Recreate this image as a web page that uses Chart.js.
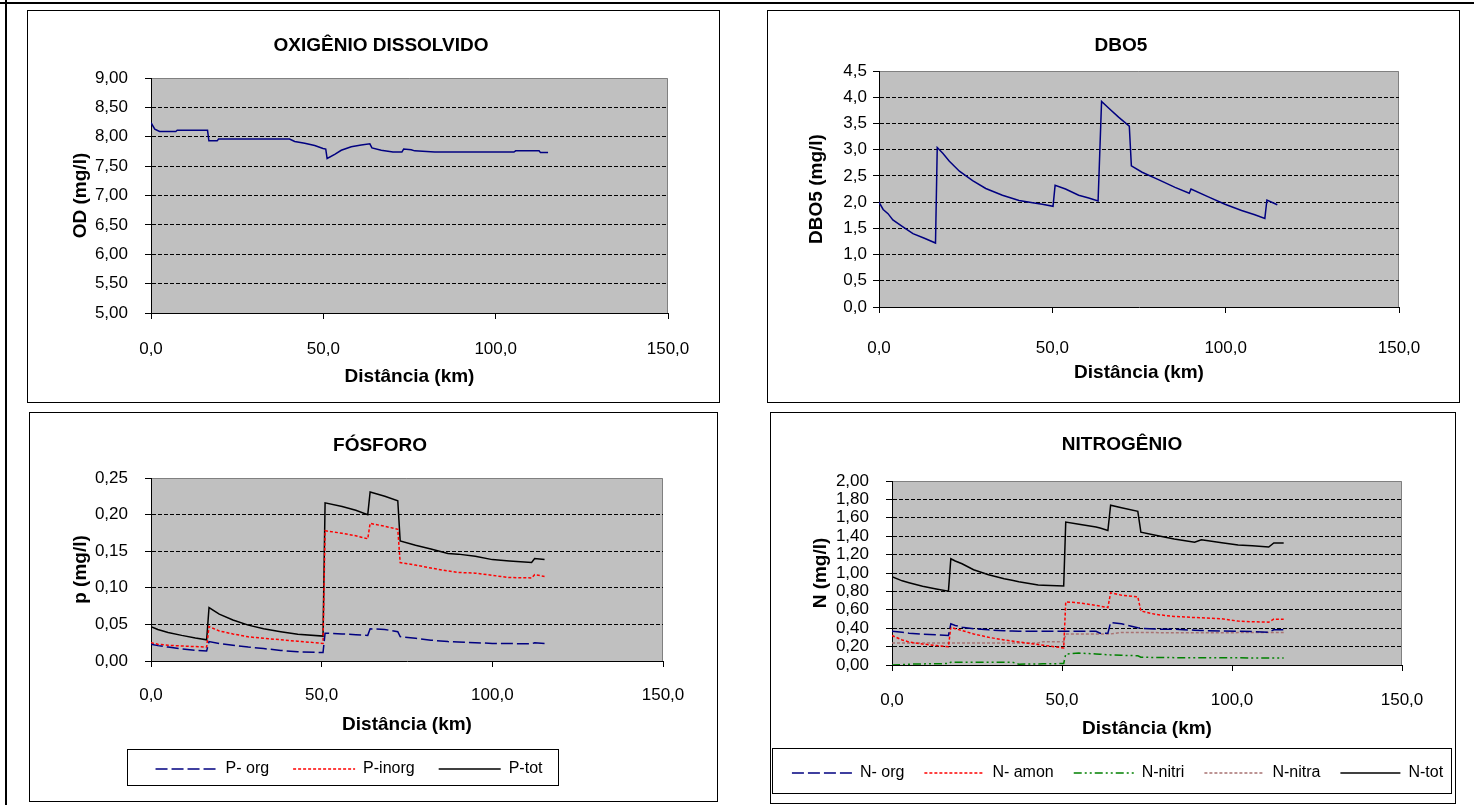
<!DOCTYPE html>
<html>
<head>
<meta charset="utf-8">
<script src="https://cdn.jsdelivr.net/npm/chart.js@4.4.1/dist/chart.umd.min.js"></script>
<style>
  body { margin: 0; background: #fff; width: 1474px; height: 805px; position: relative; overflow: hidden; }
  .panel { position: absolute; border: 1px solid #000; box-sizing: border-box; }
  .panel canvas { position: absolute; left: -1px; top: -1px; }
  .frame { position: absolute; background: #000; }
  .legbox { position: absolute; border: 1px solid #000; box-sizing: border-box; pointer-events: none; }
</style>
</head>
<body>
<div class="frame" style="left:0;top:2px;width:1474px;height:2px"></div>
<div class="frame" style="left:5px;top:0;width:2px;height:805px"></div>

<div class="panel" style="left:27px;top:10px;width:693px;height:393px"><canvas id="od" width="693" height="393"></canvas></div>
<div class="panel" style="left:767px;top:10px;width:693px;height:393px"><canvas id="dbo" width="693" height="393"></canvas></div>
<div class="panel" style="left:29px;top:412px;width:689px;height:390px"><canvas id="fos" width="689" height="390"></canvas></div>
<div class="panel" style="left:770px;top:412px;width:686px;height:392px"><canvas id="nit" width="704" height="392"></canvas></div>
<div class="legbox" style="left:127px;top:749px;width:432px;height:37px"></div>
<div class="legbox" style="left:772px;top:748px;width:680px;height:46px"></div>

<script>
// Oxigênio dissolvido
const odKm = [0, 1.1, 2.5, 7.2, 7.6, 16.4, 16.8, 19.2, 19.6, 40.2, 41.7, 44.6, 47.5, 49.9, 50.7, 51.1,
  53.3, 55.2, 58.1, 61.0, 63.5, 64.1, 66.8, 70.2, 72.8, 73.3, 75.5, 76.5, 82.3, 105.3, 105.8, 112.6, 113.0, 115.2];
const odVal = [8.24, 8.13, 8.09, 8.09, 8.11, 8.11, 7.93, 7.93, 7.96, 7.96, 7.92, 7.89, 7.85, 7.80, 7.79, 7.63,
  7.70, 7.77, 7.83, 7.86, 7.88, 7.81, 7.77, 7.74, 7.74, 7.79, 7.78, 7.76, 7.74, 7.74, 7.76, 7.76, 7.73, 7.73];

// DBO5
const dboKm = [0, 1.2, 2.6, 4.0, 6.9, 9.8, 13.1, 16.3, 16.8, 18.4, 20.3, 23.2, 27.0, 30.8, 35.6, 40.4, 44.3,
  47.1, 50.2, 50.8, 53.8, 57.6, 60.5, 63.2, 64.2, 66.3, 69.1, 72.2, 72.8, 75.9, 80.6, 85.4, 89.5, 90.0, 95.0,
  99.8, 104.6, 108.4, 111.3, 111.9, 114.9];
const dboVal = [2.00, 1.86, 1.78, 1.66, 1.53, 1.40, 1.31, 1.22, 3.04, 2.93, 2.78, 2.59, 2.41, 2.26, 2.13, 2.03,
  1.99, 1.96, 1.92, 2.32, 2.25, 2.13, 2.08, 2.02, 3.92, 3.79, 3.62, 3.45, 2.69, 2.57, 2.43, 2.28, 2.17, 2.25,
  2.10, 1.96, 1.84, 1.76, 1.69, 2.04, 1.95];

// Fósforo
const pKm = [0, 2, 5, 9, 13, 16.3, 17, 20, 24, 28.5, 33, 38, 43, 50.4, 51, 56, 60, 63.5, 64.2, 68.5, 72.3, 73,
  77.5, 82, 87, 90, 95, 100, 105, 111.5, 112.4, 115.3];
const pOrg = [0.023, 0.021, 0.019, 0.0165, 0.0145, 0.0137, 0.0265, 0.024, 0.0215, 0.019, 0.017, 0.0145, 0.0125,
  0.0115, 0.038, 0.037, 0.036, 0.035, 0.044, 0.043, 0.040, 0.0333, 0.031, 0.0285, 0.0265, 0.026, 0.025, 0.024,
  0.0238, 0.0235, 0.025, 0.0238];
const pInorg = [0.025, 0.0228, 0.0215, 0.0205, 0.0197, 0.019, 0.047, 0.041, 0.037, 0.033, 0.031, 0.029, 0.027,
  0.024, 0.178, 0.1745, 0.171, 0.167, 0.188, 0.184, 0.180, 0.1345, 0.131, 0.127, 0.123, 0.121, 0.120, 0.117,
  0.114, 0.1135, 0.118, 0.1155];
const pTot = [0.047, 0.043, 0.039, 0.035, 0.0315, 0.029, 0.073, 0.064, 0.056, 0.049, 0.044, 0.040, 0.0365,
  0.034, 0.216, 0.211, 0.206, 0.200, 0.231, 0.225, 0.219, 0.164, 0.158, 0.153, 0.147, 0.146, 0.143, 0.1385,
  0.1365, 0.1345, 0.140, 0.1385];

// Nitrogênio
const nKm = [0, 3, 5, 9, 13, 16.6, 17.3, 18.6, 20.6, 24, 28.4, 33, 35.3, 37.3, 43, 44.5, 50.5, 51.1, 55, 60,
  61.2, 63.5, 64.3, 67.5, 72.3, 73.2, 77.5, 83, 89, 91, 97, 101.8, 106, 110.8, 112.3, 115.2];
const nOrg = [0.367, 0.355, 0.345, 0.335, 0.328, 0.32, 0.448, 0.43, 0.411, 0.395, 0.382, 0.372, 0.369, 0.367,
  0.367, 0.367, 0.367, 0.367, 0.367, 0.367, 0.345, 0.345, 0.463, 0.448, 0.404, 0.40, 0.39, 0.389, 0.378, 0.375,
  0.37, 0.367, 0.363, 0.356, 0.382, 0.382];
const nAmon = [0.32, 0.272, 0.25, 0.228, 0.212, 0.199, 0.411, 0.395, 0.375, 0.338, 0.301, 0.272, 0.26, 0.25,
  0.222, 0.215, 0.185, 0.686, 0.675, 0.648, 0.64, 0.624, 0.785, 0.759, 0.741, 0.587, 0.55, 0.528, 0.516, 0.514,
  0.503, 0.477, 0.47, 0.466, 0.499, 0.496];
const nNitri = [0.0, 0.005, 0.009, 0.012, 0.014, 0.016, 0.031, 0.031, 0.031, 0.031, 0.031, 0.031, 0.031, 0.009,
  0.012, 0.013, 0.016, 0.119, 0.13, 0.12, 0.117, 0.111, 0.11, 0.106, 0.10, 0.085, 0.082, 0.08, 0.08, 0.08,
  0.078, 0.078, 0.077, 0.077, 0.077, 0.077];
const nNitra = [0.24, 0.24, 0.24, 0.24, 0.24, 0.24, 0.24, 0.24, 0.24, 0.24, 0.24, 0.24, 0.24, 0.24, 0.24, 0.254,
  0.254, 0.338, 0.338, 0.338, 0.338, 0.338, 0.338, 0.353, 0.353, 0.353, 0.352, 0.35, 0.35, 0.35, 0.35, 0.352,
  0.352, 0.352, 0.352, 0.352];
const nTot = [0.96, 0.915, 0.895, 0.857, 0.827, 0.803, 1.155, 1.13, 1.10, 1.035, 0.982, 0.937, 0.92, 0.905,
  0.87, 0.868, 0.858, 1.554, 1.53, 1.50, 1.49, 1.463, 1.737, 1.71, 1.67, 1.444, 1.41, 1.37, 1.334, 1.362, 1.33,
  1.305, 1.295, 1.283, 1.327, 1.327];

const xTicks = [0, 50, 100, 150];

Chart.defaults.font.family = '"Liberation Sans", Arial, sans-serif';
Chart.defaults.color = '#000';

function pts(xs, ys) {
  return xs.map((x, i) => ({ x: x, y: ys[i] }));
}

function comma(v, d) {
  return v.toFixed(d).replace('.', ',');
}

// grey plot area with grey top/right edges, like the spreadsheet chart
const plotBg = {
  id: 'plotBg',
  beforeDraw(chart) {
    const { ctx, chartArea: a } = chart;
    ctx.save();
    ctx.fillStyle = '#c0c0c0';
    ctx.fillRect(a.left, a.top, a.right - a.left, a.bottom - a.top);
    ctx.strokeStyle = '#808080';
    ctx.lineWidth = 1;
    ctx.beginPath();
    ctx.moveTo(a.left, a.top + 0.5);
    ctx.lineTo(a.right - 0.5, a.top + 0.5);
    ctx.lineTo(a.right - 0.5, a.bottom);
    ctx.stroke();
    ctx.restore();
  }
};

// put the legend row where the framed legend sits
function legendSpot(cx, cy, pad) {
  return {
    id: 'legendSpot',
    beforeDraw(chart) {
      const lg = chart.legend;
      const w = lg.width;
      lg.left = cx - w / 2;
      lg.right = cx + w / 2;
      lg.top = cy - pad - 8;
      lg.bottom = lg.top + lg.height;
    }
  };
}

function legendOpts(pad, lineW) {
  return {
    display: true,
    position: 'bottom',
    labels: {
      usePointStyle: true,
      pointStyleWidth: lineW,
      padding: pad,
      font: { size: 16 },
      generateLabels: (chart) => chart.data.datasets.map((ds, i) => ({
        text: ds.label,
        fillStyle: ds.borderColor,
        strokeStyle: ds.borderColor,
        lineWidth: ds.borderWidth,
        lineDash: ds.borderDash || [],
        pointStyle: 'line',
        fontColor: '#000',
        hidden: false,
        datasetIndex: i
      }))
    }
  };
}

function makeChart(id, o) {
  return new Chart(document.getElementById(id), {
    type: 'line',
    data: { datasets: o.datasets },
    options: {
      responsive: false,
      animation: false,
      devicePixelRatio: 1,
      layout: { padding: { left: o.padLeft, top: 0, right: 0, bottom: o.padBottom } },
      elements: { point: { radius: 0 }, line: { tension: 0, borderWidth: 1.5 } },
      plugins: {
        title: {
          display: true, text: o.title, color: '#000',
          font: { size: 19, weight: 'bold' }, padding: o.titlePad
        },
        legend: o.legend || { display: false },
        tooltip: { enabled: false }
      },
      scales: {
        x: {
          type: 'linear', min: 0, max: 150,
          afterBuildTicks: (s) => { s.ticks = xTicks.map(v => ({ value: v })); },
          afterFit: (s) => { s.height = o.xHeight; },
          grid: { drawOnChartArea: false, drawTicks: true, tickLength: 6, tickColor: '#000', color: '#000' },
          border: { color: '#000', width: 1 },
          ticks: { padding: o.xTickPad, font: { size: 17 }, maxRotation: 0, callback: (v) => comma(v, 1) },
          title: { display: true, text: 'Distância (km)', font: { size: 19, weight: 'bold' }, padding: 0 }
        },
        y: {
          min: o.yMin, max: o.yMax,
          afterFit: (s) => { s.width = o.yWidth; },
          grid: {
            tickLength: 6, tickColor: '#000', lineWidth: 1,
            color: (c) => (c.index === 0 || c.tick.value >= o.yMax - 1e-9) ? 'rgba(0,0,0,0)' : '#000'
          },
          border: { color: '#000', width: 1, dash: [4, 2] },
          ticks: {
            stepSize: o.yStep, autoSkip: false, padding: o.yTickPad, font: { size: 17 },
            callback: (v) => comma(v, o.yDec)
          },
          title: { display: true, text: o.yTitle, font: { size: 19, weight: 'bold' }, padding: { top: o.yTitlePad, bottom: 0 } }
        },
        // empty strip that keeps the white margin right of the plot
        yRight: {
          axis: 'y', type: 'linear', position: 'right', display: true,
          afterFit: (s) => { s.width = o.rightGap; },
          grid: { display: false, drawTicks: false },
          border: { display: false },
          ticks: { display: false },
          title: { display: false }
        }
      }
    },
    plugins: [plotBg].concat(o.extra || [])
  });
}

makeChart('od', {
  title: 'OXIGÊNIO DISSOLVIDO', yTitle: 'OD (mg/l)',
  datasets: [{ label: 'OD', data: pts(odKm, odVal), borderColor: '#000080', borderWidth: 1.5 }],
  yMin: 5, yMax: 9, yStep: 0.5, yDec: 2,
  padLeft: 15, rightGap: 52, padBottom: 14.6, titlePad: { top: 24.6, bottom: 20.6 },
  yWidth: 109, yTickPad: 17, yTitlePad: 27.6, xHeight: 75.4, xTickPad: 19.8
});

makeChart('dbo', {
  title: 'DBO5', yTitle: 'DBO5 (mg/l)',
  datasets: [{ label: 'DBO5', data: pts(dboKm, dboVal), borderColor: '#000080', borderWidth: 1.5 }],
  yMin: 0, yMax: 4.5, yStep: 0.5, yDec: 1,
  padLeft: 15, rightGap: 61, padBottom: 18.6, titlePad: { top: 24.6, bottom: 13.6 },
  yWidth: 97, yTickPad: 6, yTitlePad: 23.6, xHeight: 77.4, xTickPad: 24.8
});

makeChart('fos', {
  title: 'FÓSFORO', yTitle: 'p (mg/l)',
  datasets: [
    { label: 'P- org', data: pts(pKm, pOrg), borderColor: '#000080', borderWidth: 1.5, borderDash: [12, 4] },
    { label: 'P-inorg', data: pts(pKm, pInorg), borderColor: '#ff0000', borderWidth: 1.5, borderDash: [3, 2] },
    { label: 'P-tot', data: pts(pKm, pTot), borderColor: '#000000', borderWidth: 1.5 }
  ],
  yMin: 0, yMax: 0.25, yStep: 0.05, yDec: 2,
  padLeft: 13, rightGap: 55, padBottom: 15.6, titlePad: { top: 22.6, bottom: 20.6 },
  yWidth: 109, yTickPad: 17, yTitlePad: 27.6, xHeight: 75.4, xTickPad: 17.8,
  legend: legendOpts(24, 62), extra: [legendSpot(320, 357, 24)]
});

makeChart('nit', {
  title: 'NITROGÊNIO', yTitle: 'N (mg/l)',
  datasets: [
    { label: 'N- org', data: pts(nKm, nOrg), borderColor: '#000080', borderWidth: 1.5, borderDash: [12, 4] },
    { label: 'N- amon', data: pts(nKm, nAmon), borderColor: '#ff0000', borderWidth: 1.5, borderDash: [3, 2] },
    { label: 'N-nitri', data: pts(nKm, nNitri), borderColor: '#008000', borderWidth: 1.5, borderDash: [8, 3, 2, 3, 2, 3] },
    { label: 'N-nitra', data: pts(nKm, nNitra), borderColor: '#a87272', borderWidth: 1.5, borderDash: [3, 2] },
    { label: 'N-tot', data: pts(nKm, nTot), borderColor: '#000000', borderWidth: 1.5 }
  ],
  yMin: 0, yMax: 2, yStep: 0.2, yDec: 2,
  padLeft: 0, rightGap: 72, padBottom: 17.6, titlePad: { top: 21.6, bottom: 24.6 },
  yWidth: 122, yTickPad: 17, yTitlePad: 39.1, xHeight: 75.4, xTickPad: 18.8,
  legend: legendOpts(20, 60), extra: [legendSpot(347.5, 361, 20)]
});
</script>
</body>
</html>
